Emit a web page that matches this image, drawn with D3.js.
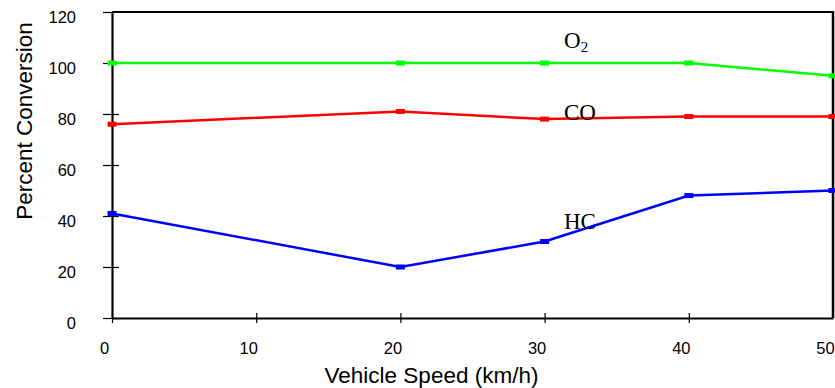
<!DOCTYPE html>
<html>
<head>
<meta charset="utf-8">
<script src="https://cdn.jsdelivr.net/npm/d3@7/dist/d3.min.js"></script>
<style>
  html, body { margin: 0; padding: 0; background: #fff; }
  svg { display: block; }
</style>
</head>
<body>
<script>
// Vehicle speed (km/h) and percent conversion for each gas
const speeds = [0, 20, 30, 40, 50];
const o2 = [100, 100, 100, 100, 95];
const co = [76, 81, 78, 79, 79];
const hc = [41, 20, 30, 48, 50];
const xTicks = [0, 10, 20, 30, 40, 50];
const yTicks = [0, 20, 40, 60, 80, 100, 120];

const seriesList = [
  { name: "O2", values: o2, color: "#00ff00" },
  { name: "CO", values: co, color: "#ff0000" },
  { name: "HC", values: hc, color: "#0000ff" }
];

const W = 835, H = 388;
const plotLeft = 112, plotRight = 833, plotTop = 12, plotBottom = 318;

const svg = d3.select("body").append("svg")
  .attr("width", W).attr("height", H);

const x = d3.scaleLinear().domain([0, 50]).range([plotLeft, plotRight]);
const y = d3.scaleLinear().domain([0, 120]).range([plotBottom, plotTop]);

const tickFont = "'Liberation Sans', Arial, sans-serif";

// Frame: top and right edges
svg.append("line").attr("x1", plotLeft).attr("x2", plotRight + 1)
  .attr("y1", plotTop).attr("y2", plotTop)
  .attr("stroke", "#000").attr("stroke-width", 2);
svg.append("line").attr("x1", plotRight).attr("x2", plotRight)
  .attr("y1", plotTop).attr("y2", plotBottom)
  .attr("stroke", "#000").attr("stroke-width", 2.5);

// Y axis
const gy = svg.append("g")
  .attr("transform", `translate(${plotLeft},0)`)
  .call(d3.axisLeft(y).tickValues(yTicks).tickSize(9).tickSizeOuter(0));
gy.select(".domain").attr("stroke-width", 2.2);
gy.selectAll(".tick line").attr("x1", d => d === 120 ? 0 : 7).attr("stroke-width", 1.2);
gy.selectAll(".tick text")
  .attr("x", -36).attr("dy", "0.62em")
  .attr("y", 0)
  .style("font-family", tickFont).style("font-size", "16.5px").attr("fill", "#000");

// X axis
const gx = svg.append("g")
  .attr("transform", `translate(0,${plotBottom})`)
  .call(d3.axisBottom(x).tickValues(xTicks).tickSize(5).tickSizeOuter(0));
gx.select(".domain").attr("stroke-width", 2.2);
gx.selectAll(".tick line").attr("y1", -5).attr("stroke-width", 1.2);
gx.selectAll(".tick text")
  .attr("x", -8).attr("y", 36).attr("dy", 0)
  .style("font-family", tickFont).style("font-size", "16.5px").attr("fill", "#000");
gx.selectAll(".tick").filter(d => d === 50).select("line").remove();

// Axis titles
svg.append("text")
  .attr("transform", "translate(32,121) rotate(-90)")
  .attr("text-anchor", "middle")
  .style("font-family", tickFont).style("font-size", "22.5px")
  .text("Percent Conversion");
svg.append("text")
  .attr("x", 431.5).attr("y", 383)
  .attr("text-anchor", "middle")
  .style("font-family", tickFont).style("font-size", "22.5px")
  .text("Vehicle Speed (km/h)");

// Series lines with small square markers
const line = d3.line().x((d, i) => x(speeds[i])).y(d => y(d));
seriesList.forEach(s => {
  svg.append("path")
    .datum(s.values)
    .attr("d", line)
    .attr("fill", "none")
    .attr("stroke", s.color)
    .attr("stroke-width", 2.5);
  svg.selectAll(null)
    .data(s.values)
    .enter().append("rect")
    .attr("x", (d, i) => x(speeds[i]) - 4.5)
    .attr("y", d => y(d) - 2.5)
    .attr("width", 9).attr("height", 5)
    .attr("fill", s.color);
});

// Series labels
const serif = "'Liberation Serif', 'Times New Roman', serif";
const o2Label = svg.append("text")
  .attr("x", 564).attr("y", 48)
  .style("font-family", serif).style("font-size", "23px");
o2Label.append("tspan").text("O");
o2Label.append("tspan").attr("dy", 4).style("font-size", "15px").text("2");
svg.append("text").attr("x", 564).attr("y", 120)
  .style("font-family", serif).style("font-size", "23px").text("CO");
svg.append("text").attr("x", 564).attr("y", 229)
  .style("font-family", serif).style("font-size", "23px").text("HC");
</script>
</body>
</html>
